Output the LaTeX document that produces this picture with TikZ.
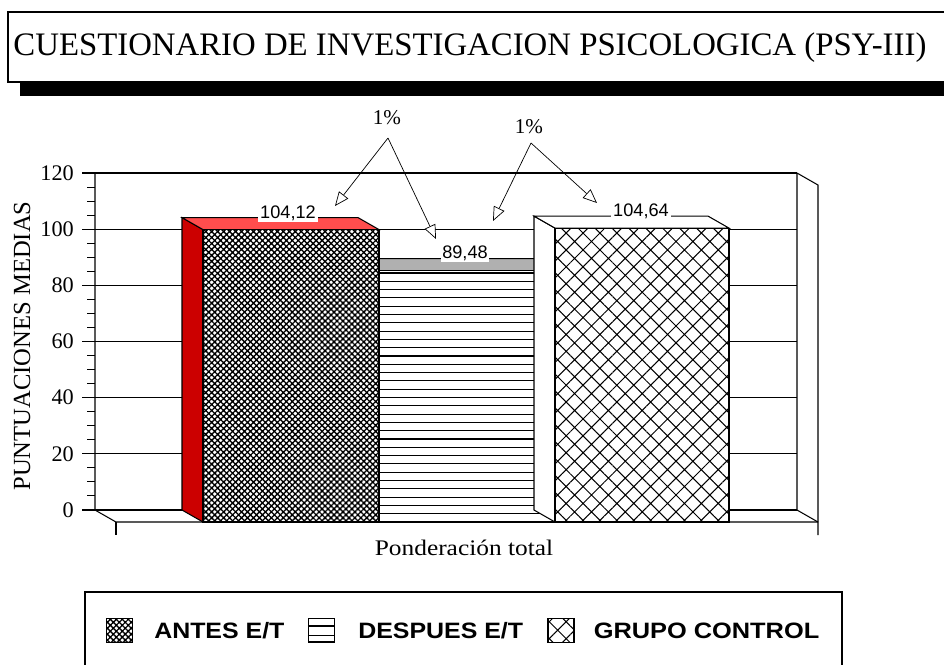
\documentclass[tikz,border=0pt]{standalone}
\usepackage{fontspec}
\setmainfont{Liberation Serif}
\newfontfamily\sansfnt{Liberation Sans}
\usepackage{tikz}
\usetikzlibrary{arrows.meta,patterns,patterns.meta,positioning}

\definecolor{barside}{RGB}{204,0,0}
\definecolor{bartop}{RGB}{255,77,77}
\definecolor{greytop}{RGB}{176,176,176}

\begin{document}
\begin{tikzpicture}[x=0.03cm,y=-0.03cm]
\tikzstyle{wall}=[line width=0.9pt, draw=black]
\tikzstyle{face}=[line width=0.9pt, draw=black]
\tikzstyle{dense}=[preaction={fill=white}, pattern={Hatch[angle=45,distance=3.6pt,line width=1.15pt]}]
\tikzstyle{stripe}=[line width=0.9pt]
\tikzstyle{diamonds}=[preaction={fill=white}, pattern={Hatch[angle=45,distance=10.2pt,line width=0.9pt]}]
\tikzstyle{ticklab}=[anchor=east, inner sep=0pt, font=\fontsize{19}{20}\selectfont]
\tikzstyle{vallab}=[fill=white, inner sep=1.5pt, font=\sansfnt\fontsize{15.5}{16}\selectfont]
\tikzstyle{pct}=[inner sep=0pt, font=\fontsize{18}{19}\selectfont]
\tikzstyle{connect}=[-{Triangle[open,fill=white,length=12pt,width=10pt]}, line width=0.6pt]
\tikzstyle{swatch}=[draw, line width=0.9pt, minimum width=0.78cm, minimum height=0.72cm, inner sep=0pt]
\tikzstyle{legtxt}=[inner sep=0pt, font=\sansfnt\bfseries\fontsize{19}{20}\selectfont]

\useasboundingbox (0,0) rectangle (944,664);

% title
\fill[black] (20,83) rectangle (960,96);
\draw[wall, fill=white] (8,12) rectangle (960,82);
\node (title) at (470,48) {\fontsize{28}{30}\selectfont CUESTIONARIO DE INVESTIGACION PSICOLOGICA (PSY-III)};

% back wall, side wall and floor
\foreach \v in {0,20,...,120}
  \draw[wall] (82,{510-2.8083*\v}) -- (797,{510-2.8083*\v});
\foreach \v in {5,10,...,115}
  \draw[wall] (87,{510-2.8083*\v}) -- (95,{510-2.8083*\v});
\foreach \v in {0,20,...,120}
  \node[ticklab] (t\v) at (74,{510-2.8083*\v}) {\v};
\draw[wall] (95,173) -- (95,510) -- (116,522) -- (818,522);
\draw[wall] (116,522) -- (116,535);
\draw[wall] (797,173) -- (797,510) -- (818,522);
\draw[wall] (797,173) -- (818,185) -- (818,535);

% bars
\filldraw[face, fill=greytop] (358,258.7) -- (534,258.7) -- (555,270.7) -- (379,270.7) -- cycle;
\filldraw[face, fill=white] (379,270.7) rectangle (555,522);
\foreach \k in {1,...,30}
  \draw[stripe] (379,{522-8.3*\k}) -- (555,{522-8.3*\k});

\filldraw[face, fill=barside] (182,217.6) -- (203,229.6) -- (203,522) -- (182,510) -- cycle;
\filldraw[face, fill=bartop] (182,217.6) -- (358,217.6) -- (379,229.6) -- (203,229.6) -- cycle;
\draw[face, dense] (203,229.6) rectangle (379,522);

\filldraw[face, fill=white] (534,216.1) -- (555,228.1) -- (555,522) -- (534,510) -- cycle;
\filldraw[face, fill=white] (534,216.1) -- (708,216.1) -- (729,228.1) -- (555,228.1) -- cycle;
\draw[face, diamonds] (555,228.1) rectangle (729,522);

\node[vallab] (v1) at (288,213) {104,12};
\node[vallab] (v2) at (465,253) {89,48};
\node[vallab] (v3) at (641,211) {104,64};

% significance arrows
\node[pct] (p1) at (387,118) {1\%};
\node[pct] (p2) at (529,127) {1\%};
\coordinate (a1) at (388,138);
\coordinate (a2) at (531,143);
\coordinate (a1l) at (335,206);
\coordinate (a1r) at (436,239);
\coordinate (a2l) at (493,221);
\coordinate (a2r) at (597,203);
\path (a1) edge [connect] (a1l)
      (a1) edge [connect] (a1r)
      (a2) edge [connect] (a2l)
      (a2) edge [connect] (a2r);

% axis titles
\node[rotate=90, font=\fontsize{21}{22}\selectfont] (ylab) at (22,346) {PUNTUACIONES MEDIAS};
\node[font=\fontsize{19}{20}\selectfont] (xlab) at (464,548) {\scalebox{1.14}[1]{Ponderación total}};

% legend
\draw[wall] (85,670) -- (85,592) -- (842,592) -- (842,670);
\node[swatch, dense] (s1) at (119.5,630.5) {};
\node[legtxt, right=0.63cm of s1] (l1) {\scalebox{1.12}[1]{ANTES E/T}};
\node[swatch, fill=white] (s2) at (321.5,630.5) {};
\draw[stripe] ([yshift=-0.24cm]s2.north west) -- ([yshift=-0.24cm]s2.north east);
\draw[stripe] ([yshift=0.24cm]s2.south west) -- ([yshift=0.24cm]s2.south east);
\draw[line width=2pt] ([yshift=0.04cm]s2.south west) -- ([yshift=0.04cm]s2.south east);
\node[legtxt, right=0.69cm of s2] (l2) {\scalebox{1.12}[1]{DESPUES E/T}};
\node[swatch, diamonds] (s3) at (561,630.5) {};
\node[legtxt, right=0.57cm of s3] (l3) {\scalebox{1.14}[1]{GRUPO CONTROL}};
\end{tikzpicture}
\end{document}
